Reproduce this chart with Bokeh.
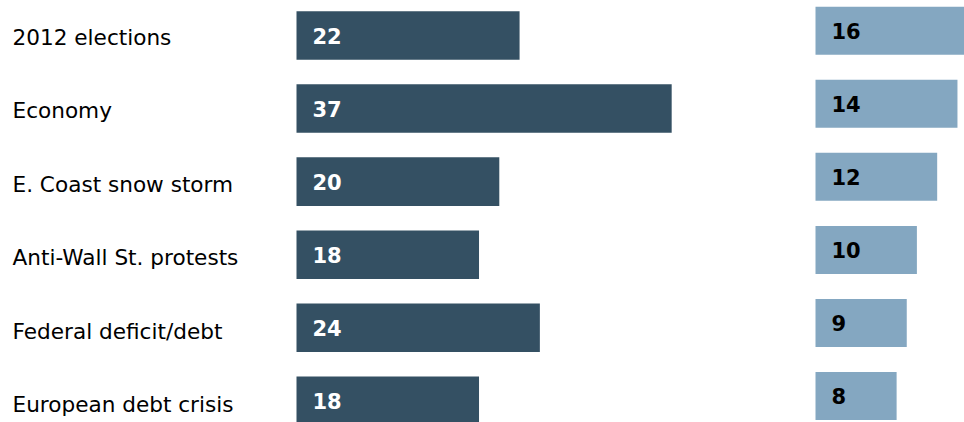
from bokeh.plotting import figure
from bokeh.models import Range1d, ColumnDataSource
from bokeh.core.properties import value
from bokeh.embed import file_html
from bokeh.resources import INLINE

# ---- data ----
categories = ["2012 elections", "Economy", "E. Coast snow storm",
              "Anti-Wall St. protests", "Federal deficit/debt", "European debt crisis"]
series_left = [22, 37, 20, 18, 24, 18]
series_right = [16, 14, 12, 10, 9, 8]

DARK = "#345063"
LIGHT = "#84a7c1"
FONT = "DejaVu Sans"

W, H = 964, 422
PX_PER_UNIT = 10.14      # px per value unit
ROW = 73.06              # px per row
LEFT_ZERO = 296          # px where left bars start
RIGHT_ZERO = 815         # px where right bars start
LEFT_ROW0 = 35.0         # px center of first left row
RIGHT_ROW0 = 30.2        # px center of first right row

idx = list(range(len(categories)))

p = figure(width=W, height=H, output_backend="svg", toolbar_location=None,
           min_border=0, outline_line_color=None,
           x_range=Range1d(-LEFT_ZERO / PX_PER_UNIT, (W - LEFT_ZERO) / PX_PER_UNIT),
           y_range=Range1d(-LEFT_ROW0 / ROW + H / ROW, -LEFT_ROW0 / ROW))
p.extra_x_ranges = {"right": Range1d(-RIGHT_ZERO / PX_PER_UNIT, (W - RIGHT_ZERO) / PX_PER_UNIT)}
p.extra_y_ranges = {"right": Range1d(-RIGHT_ROW0 / ROW + H / ROW, -RIGHT_ROW0 / ROW)}
p.axis.visible = False
p.grid.visible = False
p.background_fill_color = "white"
p.border_fill_color = "white"

src = ColumnDataSource(dict(
    y=idx,
    cat=categories,
    a=series_left,
    b=series_right,
    a_lbl=[str(v) for v in series_left],
    b_lbl=[str(v) for v in series_right],
    lab_y=[0.027 + 1.0047 * i for i in idx],
))

# left bars
p.hbar(y="y", left=0, right="a", height=0.665, source=src,
       fill_color=DARK, line_color=None)
p.text(x=16.0 / PX_PER_UNIT, y="y", text="a_lbl", source=src,
       text_color="white", text_font=value(FONT), text_font_style="bold",
       text_font_size="21px", text_baseline="middle", text_align="left")

# right bars
p.hbar(y="y", left=0, right="b", height=0.657, source=src,
       fill_color=LIGHT, line_color=None,
       x_range_name="right", y_range_name="right")
p.text(x=16.0 / PX_PER_UNIT, y="y", text="b_lbl", source=src,
       text_color="black", text_font=value(FONT), text_font_style="bold",
       text_font_size="21px", text_baseline="middle", text_align="left",
       x_range_name="right", y_range_name="right")

# category labels
p.text(x=(12 - LEFT_ZERO) / PX_PER_UNIT, y="lab_y", text="cat", source=src,
       text_color="black", text_font=value(FONT), text_font_size="21.6px",
       text_baseline="middle", text_align="left")

open("out.html", "w").write(file_html(p, INLINE))
